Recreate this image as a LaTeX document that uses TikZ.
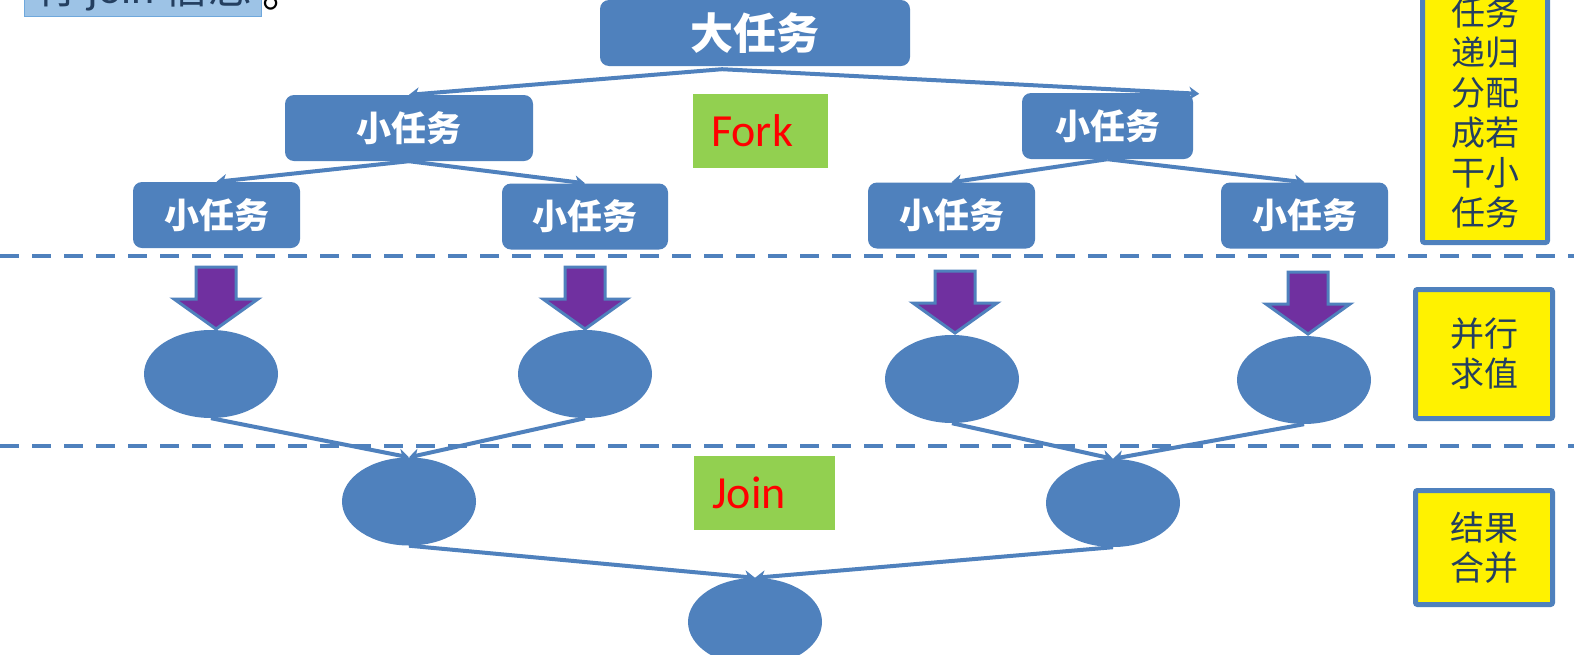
\documentclass[tikz,border=0pt]{standalone}
\usepackage{fontspec}
\setmainfont{Carlito}
\newfontfamily\cjk{Noto Sans CJK SC}
\usetikzlibrary{shapes.geometric,arrows.meta,calc}
\definecolor{tblue}{HTML}{4F81BD}
\definecolor{tpurple}{HTML}{7030A0}
\definecolor{tgreen}{HTML}{92D050}
\definecolor{tnavy}{HTML}{243F60}
\definecolor{tlight}{HTML}{9DC3E6}
\definecolor{tlightb}{HTML}{6FA8DC}
\begin{document}
\begin{tikzpicture}[x=1pt,y=-1pt,
 taskbox/.style={fill=tblue, rounded corners=9pt, inner sep=0pt, text=white, minimum height=66pt, font=\cjk\bfseries\fontsize{35}{35}\selectfont},
 blob/.style={ellipse, fill=tblue, inner sep=0pt, minimum width=134pt, minimum height=88pt},
 link/.style={draw=tblue, line width=4pt, -{Stealth[length=10pt,width=13pt,inset=3pt]}},
 sep/.style={draw=tblue, line width=4pt, dash pattern=on 19pt off 13pt},
 note/.style={fill=yellow, draw=tblue, line width=5pt, rounded corners=2pt, inner sep=0pt, text=tnavy, font=\cjk\fontsize{34}{40}\selectfont, align=center},
 greenbox/.style={fill=tgreen, inner ysep=0pt, inner xsep=18pt, minimum height=74pt, anchor=west, align=left, text=red, font=\fontsize{46}{46}\selectfont},
 downarrow/.pic={\draw[fill=tpurple, draw=tblue, line width=3pt, miter limit=10] (0,0) -- (-42,-30) -- (-20,-30) -- (-20,-62) -- (20,-62) -- (20,-30) -- (42,-30) -- cycle;}
]
\useasboundingbox (0,0) rectangle (1574,654);
\fill[white] (0,0) rectangle (1574,654);

% header remnant
\node[fill=tlight, draw=tlightb, line width=1pt, anchor=base west, minimum width=237pt, inner ysep=0pt, text depth=13.5pt, text=tnavy, font=\fontsize{44}{44}\selectfont] (hdr) at (24,3) {{\cjk 有} join {\cjk 信息}};
\node[anchor=base west, inner sep=0pt, font=\cjk\fontsize{44}{44}\selectfont] (dot) at (262,7) {。};

% separators
\draw[sep] (0,256) -- (1574,256);
\draw[sep] (0,446) -- (1574,446);

% task boxes
\node[taskbox, minimum width=310pt, font=\cjk\bfseries\fontsize{43}{43}\selectfont] (big) at (755,33) {大任务};
\node[taskbox, minimum width=248pt] (b1) at (409,128) {小任务};
\node[taskbox, minimum width=171pt] (b2) at (1107.5,126) {小任务};
\node[taskbox, minimum width=167pt] (c1) at (216.5,215) {小任务};
\node[taskbox, minimum width=166pt] (c2) at (585,216.5) {小任务};
\node[taskbox, minimum width=167pt] (c3) at (951.5,215.5) {小任务};
\node[taskbox, minimum width=167pt] (c4) at (1304.5,215.5) {小任务};

\coordinate (apex) at ($(big.south)+(-33,3)$);
\coordinate (b2tip) at ($(b2.north east)+(6,1)$);
\draw[link] (apex) -- (b1.north);
\draw[link] (apex) -- (b2tip);
\draw[link] (b1.south) -- (c1.north);
\draw[link] (b1.south) -- (c2.north);
\draw[link] (b2.south) -- (c3.north);
\draw[link] (b2.south) -- (c4.north);

% green labels
\node[greenbox, text width=99pt] (fork) at (693,131) {Fork};
\node[greenbox, text width=105pt] (join) at (694,493) {Join};

% purple arrows
\pic at (216,329) {downarrow};
\pic at (585,329) {downarrow};
\pic at (955,333) {downarrow};
\pic at (1308,334) {downarrow};

% ellipses
\node[blob] (e1) at (211,374) {};
\node[blob] (e2) at (585,374) {};
\node[blob] (e3) at (952,379) {};
\node[blob] (e4) at (1304,380) {};
\node[blob] (j1) at (409,501.5) {};
\node[blob] (j2) at (1113,503) {};
\node[blob] (f) at (755,622) {};

\draw[link] (e1.south) -- (j1.north);
\draw[link] (e2.south) -- (j1.north);
\draw[link] (e3.south) -- (j2.north);
\draw[link] (e4.south) -- (j2.north);
\draw[link] (j1.south) -- (f.north);
\draw[link] (j2.south) -- (f.north);

% yellow notes
\node[note, minimum width=125pt, minimum height=259pt] (n1) at (1485,113) {任务\\递归\\分配\\成若\\干小\\任务};
\node[note, minimum width=137pt, minimum height=129pt] (n2) at (1484,354) {并行\\求值};
\node[note, minimum width=137pt, minimum height=114pt] (n3) at (1484,547.5) {结果\\合并};
\end{tikzpicture}
\end{document}
